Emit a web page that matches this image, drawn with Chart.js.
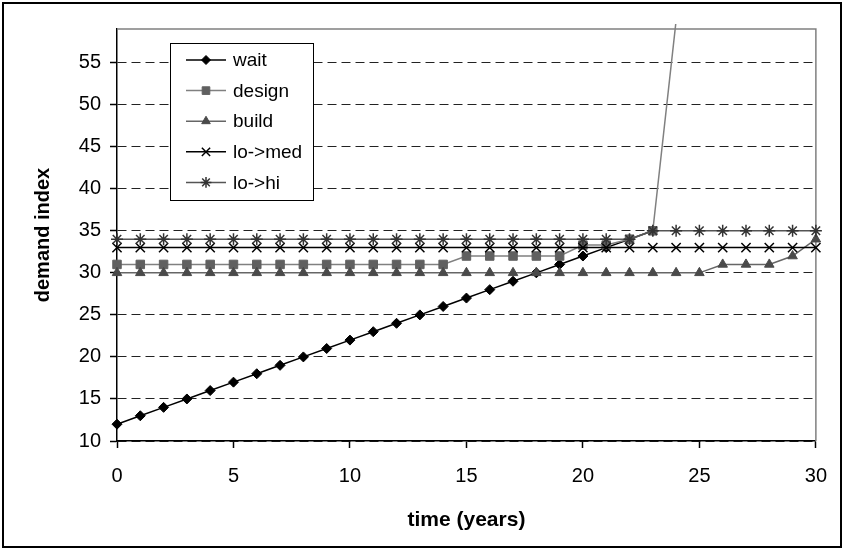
<!DOCTYPE html>
<html>
<head>
<meta charset="utf-8">
<script src="https://cdn.jsdelivr.net/npm/chart.js@4.4.1/dist/chart.umd.min.js"></script>
<style>
	html, body { margin: 0; padding: 0; background: #ffffff; }
	#wrap { position: relative; width: 843px; height: 550px; }
</style>
</head>
<body>
<div id="wrap"><canvas id="demandChart"></canvas></div>
<script>
// Demand index per year for each strategy
const years = [0, 1, 2, 3, 4, 5, 6, 7, 8, 9, 10, 11, 12, 13, 14, 15, 16, 17, 18, 19, 20, 21, 22, 23, 24, 25, 26, 27, 28, 29, 30];
const waitValues = [12, 13, 14, 15, 16, 17, 18, 19, 20, 21, 22, 23, 24, 25, 26, 27, 28, 29, 30, 31, 32, 33, 34, 35, null, null, null, null, null, null, null];
const designValues = [31, 31, 31, 31, 31, 31, 31, 31, 31, 31, 31, 31, 31, 31, 31, 32, 32, 32, 32, 32, 33.3, 33.3, 34, 35, 60, null, null, null, null, null, null];
const buildValues = [30, 30, 30, 30, 30, 30, 30, 30, 30, 30, 30, 30, 30, 30, 30, 30, 30, 30, 30, 30, 30, 30, 30, 30, 30, 30, 31, 31, 31, 32, 34];
const loMedValues = [33, 33, 33, 33, 33, 33, 33, 33, 33, 33, 33, 33, 33, 33, 33, 33, 33, 33, 33, 33, 33, 33, 33, 33, 33, 33, 33, 33, 33, 33, 33];
const loHiValues = [34, 34, 34, 34, 34, 34, 34, 34, 34, 34, 34, 34, 34, 34, 34, 34, 34, 34, 34, 34, 34, 34, 34, 35, 35, 35, 35, 35, 35, 35, 35];

const seriesLabels = ['wait', 'design', 'build', 'lo->med', 'lo->hi'];
const yTickValues = [10, 15, 20, 25, 30, 35, 40, 45, 50, 55];
const xTickValues = [0, 5, 10, 15, 20, 25, 30];

const FONT = 'Arial, "Liberation Sans", sans-serif';

// Line and marker look of each series
const seriesStyles = [
	{ line: '#000000', marker: '#000000', pointStyle: 'rectRot', radius: 5, markerWidth: 1 },
	{ line: '#808080', marker: '#606060', pointStyle: 'rect', radius: 6, markerWidth: 1 },
	{ line: '#666666', marker: '#4a4a4a', pointStyle: 'triangle', radius: 5.5, markerWidth: 1 },
	{ line: '#000000', marker: '#000000', pointStyle: 'crossRot', radius: 6.5, markerWidth: 1.5 },
	{ line: '#555555', marker: '#333333', pointStyle: 'star', radius: 6, markerWidth: 1.5 }
];

function toPoints(values) {
	return years.map((x, i) => ({ x: x, y: values[i] }));
}

function makeDataset(label, values, style, order) {
	return {
		label: label,
		data: toPoints(values),
		borderColor: style.line,
		backgroundColor: style.marker,
		borderWidth: 1.5,
		pointStyle: style.pointStyle,
		pointRadius: style.radius,
		pointHoverRadius: style.radius,
		pointBackgroundColor: style.marker,
		pointBorderColor: style.marker,
		pointBorderWidth: style.markerWidth,
		tension: 0,
		fill: false,
		spanGaps: false,
		clip: { left: 8, right: 8, top: 5, bottom: 8 },
		order: order
	};
}

const allValues = [waitValues, designValues, buildValues, loMedValues, loHiValues];
const datasets = seriesLabels.map((label, i) => makeDataset(label, allValues[i], seriesStyles[i], seriesLabels.length - i));

// White page with a black frame, gray top/right edge of the plot
const frame = {
	id: 'frame',
	beforeDraw(chart) {
		const ctx = chart.ctx;
		ctx.save();
		ctx.fillStyle = '#ffffff';
		ctx.fillRect(0, 0, chart.width, chart.height);
		ctx.strokeStyle = '#000000';
		ctx.lineWidth = 2;
		ctx.strokeRect(3, 3, chart.width - 5, chart.height - 6);
		ctx.restore();
	},
	beforeDatasetsDraw(chart) {
		const a = chart.chartArea;
		const ctx = chart.ctx;
		ctx.save();
		ctx.strokeStyle = '#808080';
		ctx.lineWidth = 1.5;
		ctx.beginPath();
		ctx.moveTo(a.left, a.top);
		ctx.lineTo(a.right, a.top);
		ctx.lineTo(a.right, a.bottom);
		ctx.stroke();
		ctx.restore();
	}
};

// Boxed legend inside the plot, upper left
const legendBox = {
	id: 'legendBox',
	afterDraw(chart) {
		const ctx = chart.ctx;
		const left = chart.chartArea.left + 53;
		const top = chart.chartArea.top + 14;
		const w = 143, h = 157;
		ctx.save();
		ctx.fillStyle = '#ffffff';
		ctx.fillRect(left, top, w, h);
		ctx.strokeStyle = '#000000';
		ctx.lineWidth = 1;
		ctx.strokeRect(left + 0.5, top + 0.5, w, h);
		ctx.font = '19px ' + FONT;
		ctx.textBaseline = 'middle';
		seriesLabels.forEach((label, i) => {
			const s = seriesStyles[i];
			const y = top + 17 + i * 30.6;
			ctx.strokeStyle = s.line;
			ctx.lineWidth = 1.5;
			ctx.beginPath();
			ctx.moveTo(left + 16, y);
			ctx.lineTo(left + 56, y);
			ctx.stroke();
			ctx.fillStyle = s.marker;
			ctx.strokeStyle = s.marker;
			ctx.lineWidth = s.markerWidth;
			Chart.helpers.drawPoint(ctx, { pointStyle: s.pointStyle, radius: s.radius * 0.9, borderWidth: s.markerWidth, rotation: 0 }, left + 36, y);
			ctx.fillStyle = '#000000';
			ctx.fillText(label, left + 63, y + 1);
		});
		ctx.restore();
	}
};

const ctx = document.getElementById('demandChart').getContext('2d');
const demandChart = new Chart(ctx, {
	type: 'line',
	data: { datasets: datasets },
	options: {
		responsive: true,
		maintainAspectRatio: false,
		animation: false,
		events: [],
		layout: { padding: { top: 29, right: 26, left: 0, bottom: 0 } },
		plugins: {
			legend: { display: false },
			tooltip: { enabled: false }
		},
		scales: {
			x: {
				type: 'linear',
				min: 0,
				max: 30,
				afterFit: (scale) => { scale.height = 109; },
				afterBuildTicks: (scale) => { scale.ticks = xTickValues.map(v => ({ value: v })); },
				ticks: { color: '#000000', font: { family: FONT, size: 20 }, padding: 16 },
				grid: { drawOnChartArea: false, tickLength: 7, tickColor: '#000000', tickWidth: 1.5 },
				border: { color: '#000000', width: 1.5 },
				title: {
					display: true,
					text: 'time (years)',
					color: '#000000',
					font: { family: FONT, size: 21, weight: 'bold' },
					padding: { top: 0, bottom: 17 }
				}
			},
			y: {
				type: 'linear',
				min: 10,
				max: 59,
				afterFit: (scale) => { scale.width = 117; },
				afterBuildTicks: (scale) => { scale.ticks = yTickValues.map(v => ({ value: v })); },
				ticks: { color: '#000000', font: { family: FONT, size: 20 }, padding: 9 },
				grid: { color: '#222222', lineWidth: 1, tickLength: 7, tickColor: '#000000', tickWidth: 1.5, tickBorderDash: [] },
				border: { color: '#000000', width: 1.5, dash: [9, 5] },
				title: {
					display: true,
					text: 'demand index',
					color: '#000000',
					font: { family: FONT, size: 20, weight: 'bold' },
					padding: { top: 31, bottom: 0 }
				}
			}
		}
	},
	plugins: [frame, legendBox]
});
</script>
</body>
</html>
